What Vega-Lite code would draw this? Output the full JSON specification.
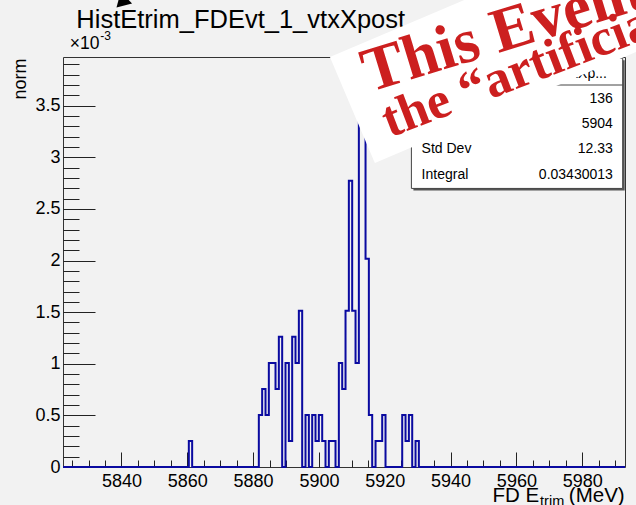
{
  "$schema": "https://vega.github.io/schema/vega-lite/v6.json",
  "width": 562,
  "height": 410,
  "autosize": {"type": "none"},
  "padding": {"left": 63, "top": 57, "right": 11, "bottom": 38},
  "background": "#f2f2f2",
  "config": {
    "view": {"stroke": "#333333", "strokeWidth": 1, "fill": "#f2f2f2"},
    "font": "Liberation Sans",
    "text": {"font": "Liberation Sans", "color": "#000000"}
  },
  "data": {"values": [{}]},
  "datasets": {
    "hist": [
      {"E": 5822.25, "norm": 0},
      {"E": 5860.48, "norm": 0.0002522},
      {"E": 5861.49, "norm": 0},
      {"E": 5881.75, "norm": 0.0005044},
      {"E": 5882.76, "norm": 0.0007566},
      {"E": 5883.78, "norm": 0.0005044},
      {"E": 5884.79, "norm": 0.0010088},
      {"E": 5885.80, "norm": 0.0010088},
      {"E": 5886.82, "norm": 0.0007566},
      {"E": 5887.83, "norm": 0.0012610},
      {"E": 5888.84, "norm": 0},
      {"E": 5889.85, "norm": 0.0010088},
      {"E": 5890.87, "norm": 0.0002522},
      {"E": 5891.88, "norm": 0.0012610},
      {"E": 5892.89, "norm": 0.0010088},
      {"E": 5893.91, "norm": 0.0015132},
      {"E": 5894.92, "norm": 0},
      {"E": 5895.93, "norm": 0.0005044},
      {"E": 5896.95, "norm": 0},
      {"E": 5897.96, "norm": 0.0005044},
      {"E": 5898.97, "norm": 0.0002522},
      {"E": 5899.98, "norm": 0.0005044},
      {"E": 5901.00, "norm": 0.0002522},
      {"E": 5902.01, "norm": 0},
      {"E": 5903.02, "norm": 0.0002522},
      {"E": 5904.04, "norm": 0.0002522},
      {"E": 5905.05, "norm": 0},
      {"E": 5906.06, "norm": 0.0010088},
      {"E": 5907.08, "norm": 0.0007566},
      {"E": 5908.09, "norm": 0.0015132},
      {"E": 5909.10, "norm": 0.0027743},
      {"E": 5910.11, "norm": 0.0015132},
      {"E": 5911.13, "norm": 0.0010088},
      {"E": 5912.14, "norm": 0.0037831},
      {"E": 5913.15, "norm": 0.0032787},
      {"E": 5914.17, "norm": 0.0020177},
      {"E": 5915.18, "norm": 0.0005044},
      {"E": 5916.19, "norm": 0},
      {"E": 5917.21, "norm": 0.0002522},
      {"E": 5918.22, "norm": 0.0002522},
      {"E": 5919.23, "norm": 0.0005044},
      {"E": 5920.24, "norm": 0},
      {"E": 5921.26, "norm": 0},
      {"E": 5922.27, "norm": 0},
      {"E": 5923.28, "norm": 0},
      {"E": 5924.30, "norm": 0},
      {"E": 5925.31, "norm": 0.0005044},
      {"E": 5926.32, "norm": 0.0002522},
      {"E": 5927.34, "norm": 0.0005044},
      {"E": 5928.35, "norm": 0},
      {"E": 5929.36, "norm": 0.0002522},
      {"E": 5930.37, "norm": 0},
      {"E": 5993.00, "norm": 0}
    ]
  },
  "resolve": {"axis": {"x": "independent", "y": "independent"}},
  "layer": [
    {
      "data": {"name": "hist"},
      "mark": {"type": "line", "interpolate": "step-after", "color": "#0a0aa0", "strokeWidth": 2, "clip": false},
      "encoding": {
        "x": {
          "field": "E", "type": "quantitative",
          "scale": {"domain": [5822.25, 5993], "nice": false, "zero": false},
          "axis": {
            "orient": "bottom", "values": [5840, 5860, 5880, 5900, 5920, 5940, 5960, 5980],
            "format": "d", "domain": false, "grid": false,
            "tickSize": -15, "tickColor": "#222222", "tickWidth": 1,
            "labelFontSize": 18, "labelColor": "#000000", "labelPadding": 20,
            "labelFlush": false, "labelOverlap": false, "title": null
          }
        },
        "y": {
          "field": "norm", "type": "quantitative",
          "scale": {"domain": [0, 0.0039723], "nice": false, "zero": true},
          "axis": {
            "orient": "left", "values": [0, 0.0005, 0.001, 0.0015, 0.002, 0.0025, 0.003, 0.0035],
            "labelExpr": "format(datum.value * 1000, '.2~f')",
            "domain": false, "grid": false,
            "tickSize": -32, "tickColor": "#222222", "tickWidth": 1,
            "labelFontSize": 18, "labelColor": "#000000", "labelPadding": 35,
            "labelOverlap": false,
            "title": "norm", "titleFontSize": 18, "titleFontWeight": "normal", "titleColor": "#000000",
            "titleAngle": 270, "titleX": -43, "titleY": 1, "titleAlign": "right", "titleBaseline": "middle"
          }
        }
      }
    },
    {
      "data": {"name": "hist"},
      "mark": {"type": "line", "strokeOpacity": 0, "clip": false},
      "encoding": {
        "x": {
          "field": "E", "type": "quantitative",
          "scale": {"domain": [5822.25, 5993], "nice": false, "zero": false},
          "axis": {
            "orient": "bottom",
            "values": [5825, 5830, 5835, 5845, 5850, 5855, 5865, 5870, 5875, 5885, 5890, 5895, 5905, 5910, 5915, 5925, 5930, 5935, 5945, 5950, 5955, 5965, 5970, 5975, 5985, 5990],
            "domain": false, "grid": false, "labels": false, "title": null,
            "tickSize": -7, "tickColor": "#222222", "tickWidth": 1
          }
        },
        "y": {
          "field": "norm", "type": "quantitative",
          "scale": {"domain": [0, 0.0039723], "nice": false, "zero": true},
          "axis": {
            "orient": "left",
            "values": [0.0001, 0.0002, 0.0003, 0.0004, 0.0006, 0.0007, 0.0008, 0.0009, 0.0011, 0.0012, 0.0013, 0.0014, 0.0016, 0.0017, 0.0018, 0.0019, 0.0021, 0.0022, 0.0023, 0.0024, 0.0026, 0.0027, 0.0028, 0.0029, 0.0031, 0.0032, 0.0033, 0.0034, 0.0036, 0.0037, 0.0038, 0.0039],
            "domain": false, "grid": false, "labels": false, "title": null,
            "tickSize": -16, "tickColor": "#222222", "tickWidth": 1
          }
        }
      }
    },
    {
      "mark": {"type": "text", "fontSize": 25.5, "align": "left", "baseline": "alphabetic", "clip": false},
      "encoding": {
        "x": {"datum": 5826.3, "type": "quantitative", "scale": {"domain": [5822.25, 5993], "nice": false, "zero": false}, "axis": null},
        "y": {"datum": 0.0042506, "type": "quantitative", "scale": {"domain": [0, 0.0039723], "nice": false, "zero": true}, "axis": null},
        "text": {"value": "HistEtrim_FDEvt_1_vtxXpost"}
      }
    },
    {
      "mark": {"type": "text", "fontSize": 17.5, "align": "left", "baseline": "alphabetic", "clip": false},
      "encoding": {
        "x": {"datum": 5824.3, "type": "quantitative", "scale": {"domain": [5822.25, 5993], "nice": false, "zero": false}, "axis": null},
        "y": {"datum": 0.004050, "type": "quantitative", "scale": {"domain": [0, 0.0039723], "nice": false, "zero": true}, "axis": null},
        "text": {"value": "×10"}
      }
    },
    {
      "mark": {"type": "text", "fontSize": 12, "align": "left", "baseline": "alphabetic", "clip": false},
      "encoding": {
        "x": {"datum": 5833.6, "type": "quantitative", "scale": {"domain": [5822.25, 5993], "nice": false, "zero": false}, "axis": null},
        "y": {"datum": 0.004140, "type": "quantitative", "scale": {"domain": [0, 0.0039723], "nice": false, "zero": true}, "axis": null},
        "text": {"value": "-3"}
      }
    },
    {
      "mark": {"type": "text", "fontSize": 20.5, "align": "right", "baseline": "alphabetic", "clip": false},
      "encoding": {
        "x": {"datum": 5966.9, "type": "quantitative", "scale": {"domain": [5822.25, 5993], "nice": false, "zero": false}, "axis": null},
        "y": {"datum": -0.000340, "type": "quantitative", "scale": {"domain": [0, 0.0039723], "nice": false, "zero": true}, "axis": null},
        "text": {"value": "FD E"}
      }
    },
    {
      "mark": {"type": "text", "fontSize": 14.5, "align": "left", "baseline": "alphabetic", "clip": false},
      "encoding": {
        "x": {"datum": 5967.2, "type": "quantitative", "scale": {"domain": [5822.25, 5993], "nice": false, "zero": false}, "axis": null},
        "y": {"datum": -0.000375, "type": "quantitative", "scale": {"domain": [0, 0.0039723], "nice": false, "zero": true}, "axis": null},
        "text": {"value": "trim"}
      }
    },
    {
      "mark": {"type": "text", "fontSize": 20.5, "align": "right", "baseline": "alphabetic", "clip": false},
      "encoding": {
        "x": {"datum": 5992.9, "type": "quantitative", "scale": {"domain": [5822.25, 5993], "nice": false, "zero": false}, "axis": null},
        "y": {"datum": -0.000340, "type": "quantitative", "scale": {"domain": [0, 0.0039723], "nice": false, "zero": true}, "axis": null},
        "text": {"value": "(MeV)"}
      }
    },
    {
      "mark": {"type": "rect", "fill": "#555555", "xOffset": 2, "x2Offset": 2, "yOffset": 2, "y2Offset": 2, "clip": false},
      "encoding": {
        "x": {"datum": 5928.1, "type": "quantitative", "scale": {"domain": [5822.25, 5993], "nice": false, "zero": false}, "axis": null},
        "x2": {"datum": 5992.3},
        "y": {"datum": 0.003960, "type": "quantitative", "scale": {"domain": [0, 0.0039723], "nice": false, "zero": true}, "axis": null},
        "y2": {"datum": 0.002699}
      }
    },
    {
      "mark": {"type": "rect", "fill": "#ffffff", "stroke": "#444444", "strokeWidth": 1, "clip": false},
      "encoding": {
        "x": {"datum": 5928.1, "type": "quantitative", "scale": {"domain": [5822.25, 5993], "nice": false, "zero": false}, "axis": null},
        "x2": {"datum": 5992.3},
        "y": {"datum": 0.003960, "type": "quantitative", "scale": {"domain": [0, 0.0039723], "nice": false, "zero": true}, "axis": null},
        "y2": {"datum": 0.002699}
      }
    },
    {
      "mark": {"type": "rule", "color": "#444444", "strokeWidth": 1, "clip": false},
      "encoding": {
        "x": {"datum": 5928.1, "type": "quantitative", "scale": {"domain": [5822.25, 5993], "nice": false, "zero": false}, "axis": null},
        "x2": {"datum": 5992.3},
        "y": {"datum": 0.003701, "type": "quantitative", "scale": {"domain": [0, 0.0039723], "nice": false, "zero": true}, "axis": null}
      }
    },
    {
      "mark": {"type": "text", "fontSize": 14, "align": "right", "baseline": "alphabetic", "clip": false},
      "encoding": {
        "x": {"datum": 5987.5, "type": "quantitative", "scale": {"domain": [5822.25, 5993], "nice": false, "zero": false}, "axis": null},
        "y": {"datum": 0.003766, "type": "quantitative", "scale": {"domain": [0, 0.0039723], "nice": false, "zero": true}, "axis": null},
        "text": {"value": "HistEtrim_FDEvt_1_vtxXp..."}
      }
    },
    {
      "data": {"values": [
        {"stat": "Entries", "value": "136", "row": 0.0035235},
        {"stat": "Mean", "value": "5904", "row": 0.003281},
        {"stat": "Std Dev", "value": "12.33", "row": 0.0030387},
        {"stat": "Integral", "value": "0.03430013", "row": 0.0027866}
      ]},
      "layer": [
        {
          "mark": {"type": "text", "fontSize": 14, "align": "left", "baseline": "alphabetic", "clip": false},
          "encoding": {
            "x": {"datum": 5931.2, "type": "quantitative", "scale": {"domain": [5822.25, 5993], "nice": false, "zero": false}, "axis": null},
            "y": {"field": "row", "type": "quantitative", "scale": {"domain": [0, 0.0039723], "nice": false, "zero": true}, "axis": null},
            "text": {"field": "stat"}
          }
        },
        {
          "mark": {"type": "text", "fontSize": 14, "align": "right", "baseline": "alphabetic", "clip": false},
          "encoding": {
            "x": {"datum": 5989.3, "type": "quantitative", "scale": {"domain": [5822.25, 5993], "nice": false, "zero": false}, "axis": null},
            "y": {"field": "row", "type": "quantitative", "scale": {"domain": [0, 0.0039723], "nice": false, "zero": true}, "axis": null},
            "text": {"field": "value"}
          }
        }
      ]
    },
    {
      "mark": {"type": "point", "shape": "M-1,-0.25L1,-0.25L1,0.25L-1,0.25Z", "size": 211600, "angle": -23, "filled": true, "fill": "#ffffff", "fillOpacity": 1, "strokeWidth": 0, "opacity": 1, "clip": false},
      "encoding": {
        "x": {"datum": 5974.5, "type": "quantitative", "scale": {"domain": [5822.25, 5993], "nice": false, "zero": false}, "axis": null},
        "y": {"datum": 0.0043298, "type": "quantitative", "scale": {"domain": [0, 0.0039723], "nice": false, "zero": true}, "axis": null}
      }
    },
    {
      "mark": {"type": "text", "font": "Liberation Serif", "fontWeight": "bold", "fontSize": 63, "color": "#cc1f1f", "align": "left", "baseline": "alphabetic", "angle": -17, "clip": false},
      "encoding": {
        "x": {"datum": 5915.3, "type": "quantitative", "scale": {"domain": [5822.25, 5993], "nice": false, "zero": false}, "axis": null},
        "y": {"datum": 0.003630, "type": "quantitative", "scale": {"domain": [0, 0.0039723], "nice": false, "zero": true}, "axis": null},
        "text": {"value": "This Event"}
      }
    },
    {
      "mark": {"type": "text", "font": "Liberation Serif", "fontWeight": "bold", "fontSize": 52, "color": "#cc1f1f", "align": "left", "baseline": "alphabetic", "angle": -21, "clip": false},
      "encoding": {
        "x": {"datum": 5921.5, "type": "quantitative", "scale": {"domain": [5822.25, 5993], "nice": false, "zero": false}, "axis": null},
        "y": {"datum": 0.003190, "type": "quantitative", "scale": {"domain": [0, 0.0039723], "nice": false, "zero": true}, "axis": null},
        "text": {"value": "the “artificial”"}
      }
    },
    {
      "mark": {"type": "point", "shape": "triangle", "size": 260, "angle": 225, "filled": true, "fill": "#000000", "fillOpacity": 1, "strokeWidth": 0, "clip": false},
      "encoding": {
        "x": {"datum": 5840.5, "type": "quantitative", "scale": {"domain": [5822.25, 5993], "nice": false, "zero": false}, "axis": null},
        "y": {"datum": 0.004515, "type": "quantitative", "scale": {"domain": [0, 0.0039723], "nice": false, "zero": true}, "axis": null}
      }
    }
  ]
}
